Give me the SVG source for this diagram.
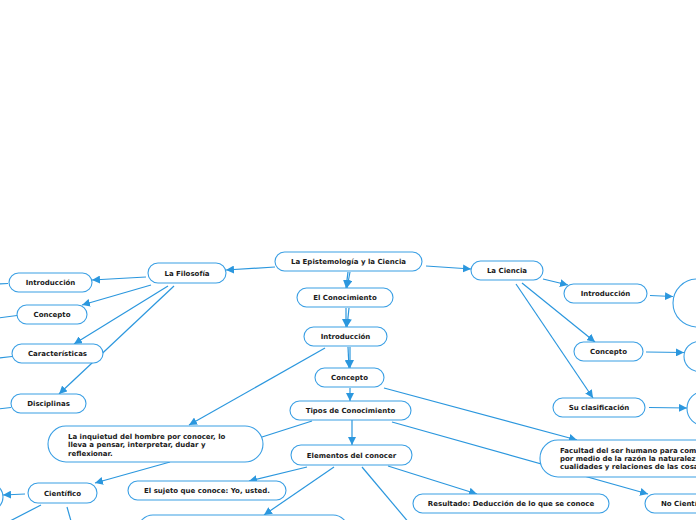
<svg xmlns="http://www.w3.org/2000/svg" width="696" height="520" viewBox="0 0 696 520">
<defs>
<marker id="ah" markerUnits="userSpaceOnUse" markerWidth="9" markerHeight="8" refX="8" refY="4" orient="auto">
<path d="M0,0 L8,4 L0,8 Z" fill="#2b97de"/>
</marker>
<style>
.n rect,.n ellipse,.n circle{fill:#fff;stroke:#3a9fe4;stroke-width:1.1}
.n text{font-family:"DejaVu Sans","Verdana",sans-serif;font-weight:bold;font-size:7px;fill:#1a1a1a}
.c{text-anchor:middle}
#connectors line{stroke:#2b97de;stroke-width:1.2;fill:none}
.a{marker-end:url(#ah)}
</style>
</defs>
<rect x="0" y="0" width="696" height="520" fill="#fff"/>
<g id="connectors">
<line class="a" x1="275" y1="267" x2="226" y2="270"/>
<line class="a" x1="426" y1="266" x2="471" y2="269"/>
<line class="a" x1="348" y1="272" x2="346" y2="288"/>
<line class="a" x1="350" y1="272" x2="347" y2="288"/>
<line class="a" x1="346" y1="308" x2="346" y2="327"/>
<line class="a" x1="349" y1="308" x2="347" y2="327"/>
<line class="a" x1="348" y1="347" x2="349" y2="368"/>
<line class="a" x1="350" y1="347" x2="350" y2="368"/>
<line class="a" x1="350" y1="388" x2="350" y2="401"/>
<line class="a" x1="352" y1="420" x2="352" y2="445"/>
<line class="a" x1="325" y1="348" x2="189" y2="425"/>
<line x1="312" y1="421" x2="262" y2="437"/>
<line class="a" x1="170" y1="462" x2="95" y2="483"/>
<line class="a" x1="384" y1="388" x2="577" y2="440"/>
<line class="a" x1="392" y1="422" x2="648" y2="494"/>
<line class="a" x1="307" y1="467" x2="249" y2="481"/>
<line class="a" x1="334" y1="467" x2="264" y2="515"/>
<line x1="362" y1="467" x2="410" y2="524"/>
<line class="a" x1="388" y1="466" x2="477" y2="494"/>
<line class="a" x1="25" y1="494" x2="3" y2="495"/>
<line x1="41" y1="505" x2="10" y2="521"/>
<line x1="67" y1="507" x2="71" y2="521"/>
<line class="a" x1="146" y1="277" x2="92" y2="280"/>
<line class="a" x1="151" y1="285" x2="82" y2="305"/>
<line class="a" x1="168" y1="286" x2="74" y2="344"/>
<line class="a" x1="174" y1="286" x2="59" y2="394"/>
<line x1="8" y1="283.5" x2="-2" y2="284"/>
<line x1="17" y1="315.5" x2="-2" y2="318"/>
<line x1="12" y1="356.5" x2="-2" y2="358"/>
<line x1="11" y1="407.5" x2="-2" y2="409"/>
<line class="a" x1="543" y1="279" x2="568" y2="285"/>
<line class="a" x1="522" y1="283" x2="595" y2="342"/>
<line class="a" x1="516" y1="284" x2="593" y2="398"/>
<line class="a" x1="650" y1="295.5" x2="673" y2="296.5"/>
<line class="a" x1="646" y1="352" x2="684" y2="352.5"/>
<line class="a" x1="649" y1="407.5" x2="687" y2="408"/>
</g>
<g id="root" class="n"><rect x="275" y="252" width="147" height="19" rx="9.5"/><text class="c" x="348.5" y="264">La Epistemología y la Ciencia</text></g>
<g id="conocimiento" class="n"><rect x="297" y="288" width="96" height="19" rx="9.5"/><text class="c" x="345" y="300">El Conocimiento</text></g>
<g id="introduccion" class="n"><rect x="304" y="327" width="83" height="19" rx="9.5"/><text class="c" x="345.5" y="339">Introducción</text></g>
<g id="concepto" class="n"><rect x="315" y="368" width="69" height="19" rx="9.5"/><text class="c" x="349.5" y="380">Concepto</text></g>
<g id="tipos" class="n"><rect x="290" y="401" width="121" height="19" rx="9.5"/><text class="c" x="350.5" y="413">Tipos de Conocimiento</text></g>
<g id="elementos" class="n"><rect x="291" y="445" width="121" height="20" rx="10"/><text class="c" x="351.5" y="457.5">Elementos del conocer</text></g>
<g id="inquietud" class="n"><rect x="48" y="426" width="215" height="36" rx="18"/><text x="68" y="438.5">La inquietud del hombre por conocer, lo</text><text x="68" y="447">lleva a pensar, interpretar, dudar y</text><text x="68" y="455.5">reflexionar.</text></g>
<g id="cientifico" class="n"><rect x="28" y="483" width="69" height="20" rx="10"/><text class="c" x="62.5" y="495.5">Científico</text></g>
<g id="circulo-cientifico" class="n"><circle cx="-11" cy="497" r="14"/></g>
<g id="sujeto" class="n"><rect x="128" y="481" width="158" height="19" rx="9.5"/><text class="c" x="207" y="493">El sujeto que conoce: Yo, usted.</text></g>
<g id="objeto" class="n"><rect x="138" y="515" width="210" height="40" rx="15"/></g>
<g id="resultado" class="n"><rect x="413" y="494" width="196" height="19" rx="9.5"/><text class="c" x="511" y="506">Resultado: Deducción de lo que se conoce</text></g>
<g id="facultad" class="n"><rect x="540" y="440" width="210" height="37" rx="18"/><text x="560" y="452.5">Facultad del ser humano para com</text><text x="560" y="460.5">por medio de la razón la naturalez</text><text x="560" y="468.5">cualidades y relaciones de las cosa</text></g>
<g id="nocientifico" class="n"><rect x="645" y="494" width="85" height="19" rx="9.5"/><text x="661" y="506">No Cientí</text></g>
<g id="filosofia" class="n"><rect x="148" y="263" width="78" height="20" rx="10"/><text class="c" x="187" y="275.5">La Filosofía</text></g>
<g id="fil-introduccion" class="n"><rect x="9" y="273" width="83" height="19" rx="9.5"/><text class="c" x="50.5" y="285">Introducción</text></g>
<g id="fil-concepto" class="n"><rect x="17" y="305" width="70" height="19" rx="9.5"/><text class="c" x="52" y="317">Concepto</text></g>
<g id="fil-caracteristicas" class="n"><rect x="12" y="344" width="91" height="19" rx="9.5"/><text class="c" x="57.5" y="356">Características</text></g>
<g id="fil-disciplinas" class="n"><rect x="11" y="394" width="75" height="19" rx="9.5"/><text class="c" x="48.5" y="406">Disciplinas</text></g>
<g id="ciencia" class="n"><rect x="471" y="261" width="72" height="19" rx="9.5"/><text class="c" x="507" y="273">La Ciencia</text></g>
<g id="cie-introduccion" class="n"><rect x="564" y="284" width="83" height="19" rx="9.5"/><text class="c" x="605.5" y="296">Introducción</text></g>
<g id="cie-concepto" class="n"><rect x="574" y="342" width="69" height="19" rx="9.5"/><text class="c" x="608.5" y="354">Concepto</text></g>
<g id="cie-clasificacion" class="n"><rect x="553" y="398" width="92" height="19" rx="9.5"/><text class="c" x="599" y="410">Su clasificación</text></g>
<g id="circulo-introduccion" class="n"><circle cx="697" cy="303" r="24"/></g>
<g id="circulo-concepto" class="n"><circle cx="699" cy="356.5" r="15"/></g>
<g id="circulo-clasificacion" class="n"><circle cx="704" cy="408.5" r="17"/></g>
</svg>
